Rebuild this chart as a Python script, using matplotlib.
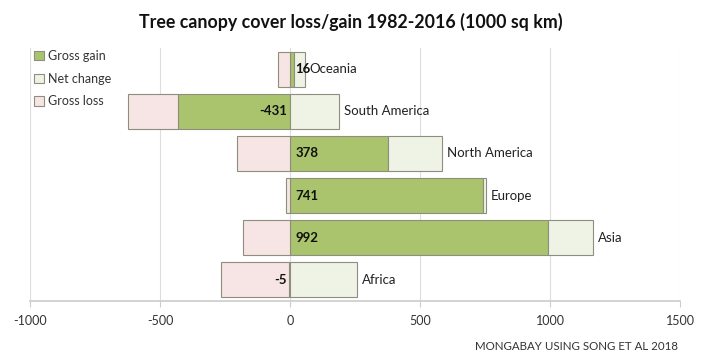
import numpy as np
import matplotlib
matplotlib.use('Agg')
import matplotlib.pyplot as plt

plt.rcParams['font.family'] = ['Lato', 'DejaVu Sans']

# data (top to bottom)
regions = ['Oceania', 'South America', 'North America', 'Europe', 'Asia', 'Africa']
gross_gain = [16, -431, 378, 741, 992, -5]
net_change = [40, 188, 207, 13, 173, 258]
gross_loss = [-45, -192, -204, -15, -181, -261]
xticks = [-1000, -500, 0, 500, 1000, 1500]

green = '#A9C46C'
light = '#EFF3E6'
pink = '#F7E4E4'
edge = '#8E8E7E'

fig = plt.figure(figsize=(7.01, 3.59), dpi=100)
ax = fig.add_axes([30/701, 1-301/359, 650/701, 253/359])

y = np.arange(len(regions))[::-1]
h = 0.83

pos_base = np.zeros(len(regions))
neg_base = np.zeros(len(regions))
series = [('Gross gain', gross_gain, green),
          ('Net change', net_change, light),
          ('Gross loss', gross_loss, pink)]
for name, vals, col in series:
    vals = np.array(vals, dtype=float)
    left = np.where(vals >= 0, pos_base, neg_base)
    ax.barh(y, vals, left=left, height=h, color=col, edgecolor=edge,
            linewidth=0.8, label=name, zorder=3)
    pos_base = pos_base + np.where(vals >= 0, vals, 0)
    neg_base = neg_base + np.where(vals < 0, vals, 0)

# value labels (gross gain) at the base of the bar
for yi, v in zip(y, gross_gain):
    if v >= 0:
        ax.text(20, yi, str(v), ha='left', va='center', fontsize=9.5,
                fontweight='bold', color='#111111', zorder=5)
    else:
        ax.text(-12, yi, str(v), ha='right', va='center', fontsize=9.5,
                fontweight='bold', color='#111111', zorder=5)

# region names to the right of each bar
for yi, end, name in zip(y, pos_base, regions):
    ax.text(end + 20, yi, name, ha='left', va='center', fontsize=9.5,
            color='#222222', zorder=5)

ax.set_xlim(-1000, 1500)
ax.set_ylim(-0.5, len(regions) - 0.5)
ax.set_xticks(xticks)
ax.set_xticklabels([str(t) for t in xticks], fontsize=9, color='#333333')
ax.set_yticks([])
ax.grid(axis='x', color='#DDDDDD', linewidth=0.8, zorder=0)
for s in ['top', 'right', 'left']:
    ax.spines[s].set_visible(False)
ax.spines['bottom'].set_color('#CCCCCC')
ax.spines['bottom'].set_linewidth(1.2)
ax.tick_params(axis='x', length=4, color='#CCCCCC', pad=6)

leg = ax.legend(loc='upper left', bbox_to_anchor=(34/701, 1-50/359),
                bbox_transform=fig.transFigure, frameon=False, fontsize=9,
                handlelength=0.8, handleheight=0.8, handletextpad=0.3,
                labelspacing=0.85, borderpad=0, borderaxespad=0)
for t in leg.get_texts():
    t.set_color('#333333')

fig.text(0.5, 1-22/359, 'Tree canopy cover loss/gain 1982-2016 (1000 sq km)',
         ha='center', va='center', fontsize=12.8, fontweight='bold', color='#111111')
fig.text(678/701, 1-346/359, 'MONGABAY USING SONG ET AL 2018', ha='right',
         va='center', fontsize=8.3, color='#333333')

fig.savefig('out.png', dpi=100)
